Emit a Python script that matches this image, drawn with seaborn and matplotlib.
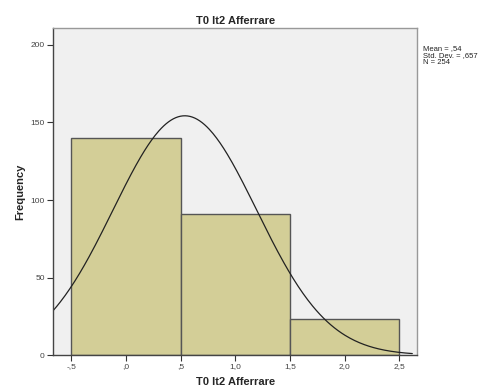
import numpy as np
import pandas as pd
import seaborn as sns
import matplotlib
matplotlib.use('Agg')
import matplotlib.pyplot as plt

# valori
bin_centers = [0, 1, 2]
counts = [140, 91, 23]
bin_edges = [-0.5, 0.5, 1.5, 2.5]
x_ticks = [-0.5, 0, 0.5, 1.0, 1.5, 2.0, 2.5]
x_tick_labels = ['-,5', ',0', ',5', '1,0', '1,5', '2,0', '2,5']
y_ticks = [0, 50, 100, 150, 200]

sns.set_style('white')
plt.rcParams['font.family'] = ['Liberation Sans', 'DejaVu Sans']

df = pd.DataFrame({'val': bin_centers, 'n': counts})
n_tot = int(np.sum(counts))
mean = np.sum(np.array(bin_centers) * np.array(counts)) / n_tot
sd = np.sqrt(np.sum(np.array(counts) * (np.array(bin_centers) - mean) ** 2) / (n_tot - 1))

fig = plt.figure(figsize=(4.92, 3.92), dpi=100)
ax = fig.add_axes([0.108, 0.094, 0.74, 0.835])
ax.set_facecolor('#f0f0f0')

sns.histplot(data=df, x='val', weights='n', bins=bin_edges, ax=ax,
             color='#d3ce97', alpha=1, edgecolor='#555555', linewidth=1.0)

# curva normale
xs = np.linspace(-0.665, 2.62, 300)
ys = n_tot * 1.0 / (sd * np.sqrt(2 * np.pi)) * np.exp(-0.5 * ((xs - mean) / sd) ** 2)
sns.lineplot(x=xs, y=ys, ax=ax, color='#222222', linewidth=0.9)

ax.set_xlim(-0.665, 2.665)
ax.set_ylim(0, 211)
ax.set_xticks(x_ticks)
ax.set_xticklabels(x_tick_labels)
ax.set_yticks(y_ticks)
ax.tick_params(axis='both', direction='out', length=4, width=0.8, color='#333333',
               labelsize=6, labelcolor='#444444', pad=2, bottom=True, left=True)
for s in ax.spines.values():
    s.set_color('#999999')
    s.set_linewidth(1.0)
ax.spines['left'].set_color('#444444')
ax.spines['bottom'].set_color('#444444')

ax.set_xlabel('T0 It2 Afferrare', fontsize=8, fontweight='bold', labelpad=5)
ax.set_ylabel('Frequency', fontsize=8, fontweight='bold', labelpad=4)
ax.set_title('T0 It2 Afferrare', fontsize=8, fontweight='bold', pad=3)

fig.text(0.86, 0.885, 'Mean = ,54\nStd. Dev. = ,657\nN = 254', fontsize=5.5,
         va='top', ha='left', linespacing=1.0, color='#222222')

fig.savefig('out.png', dpi=100)
